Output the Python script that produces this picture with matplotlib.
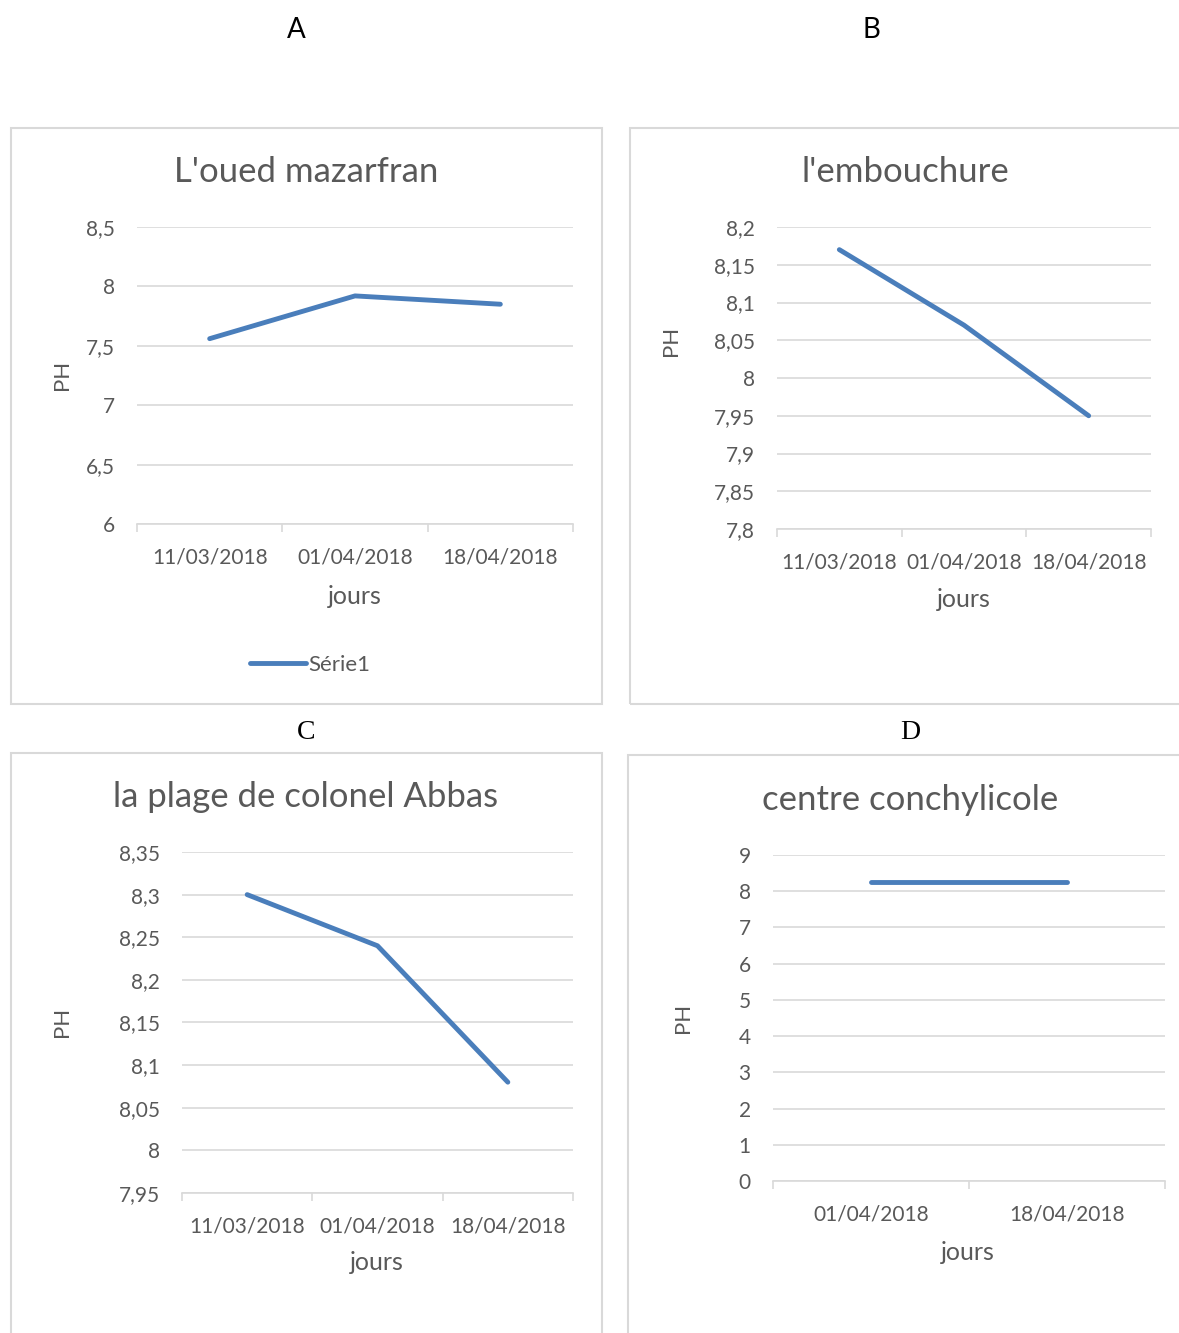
import numpy as np
import matplotlib
matplotlib.use("Agg")
import matplotlib.pyplot as plt
from matplotlib.patches import Rectangle

W, H = 1179, 1333

# data
dates_3 = ["11/03/2018", "01/04/2018", "18/04/2018"]
dates_2 = ["01/04/2018", "18/04/2018"]
ph_mazarfran = [7.56, 7.92, 7.85]
ph_embouchure = [8.17, 8.07, 7.95]
ph_abbas = [8.30, 8.24, 8.08]
ph_conchy = [8.25, 8.25]

yticks_a = [6, 6.5, 7, 7.5, 8, 8.5]
yticks_b = [7.8, 7.85, 7.9, 7.95, 8, 8.05, 8.1, 8.15, 8.2]
yticks_c = [7.95, 8, 8.05, 8.1, 8.15, 8.2, 8.25, 8.3, 8.35]
yticks_d = [0, 1, 2, 3, 4, 5, 6, 7, 8, 9]

BLUE = "#4a7ebb"
GRID = "#d9d9d9"
TXT = "#595959"
FONT = ["Lato", "DejaVu Sans"]

plt.rcParams["font.family"] = FONT


def fx(x):
    return x / W


def fy(y):
    return 1 - y / H


def rect(x0, y0, x1, y1):
    return [x0 / W, 1 - y1 / H, (x1 - x0) / W, (y1 - y0) / H]


fig = plt.figure(figsize=(W / 100, H / 100), dpi=100)


def frame(x0, y0, x1, y1):
    fig.patches.append(Rectangle((fx(x0), fy(y1)), (x1 - x0) / W, (y1 - y0) / H,
                                 transform=fig.transFigure, fill=False,
                                 edgecolor=GRID, linewidth=1.5))


def panel(box, cats, vals, yticks, title, title_xy, ylab_xy, xlab_xy):
    ax = fig.add_axes(rect(*box))
    n = len(cats)
    ax.plot(range(n), vals, color=BLUE, lw=3.5, solid_capstyle="round", zorder=3)
    ax.set_xlim(-0.5, n - 0.5)
    ax.set_ylim(yticks[0], yticks[-1])
    ax.set_yticks(yticks)
    ax.set_yticklabels([f"{v:g}".replace(".", ",") for v in yticks])
    ax.set_xticks(range(n))
    ax.set_xticklabels(cats)
    ax.set_xticks(np.arange(n + 1) - 0.5, minor=True)
    ax.tick_params(axis="x", which="major", length=0, pad=17, labelsize=15, colors=TXT)
    ax.tick_params(axis="x", which="minor", length=6, color=GRID, width=1.2)
    ax.tick_params(axis="y", length=0, pad=16, labelsize=15, colors=TXT)
    ax.grid(axis="y", color=GRID, lw=1.2)
    ax.set_axisbelow(True)
    for s in ["left", "right", "top"]:
        ax.spines[s].set_visible(False)
    ax.spines["bottom"].set_color(GRID)
    ax.spines["bottom"].set_linewidth(1.2)
    fig.text(fx(title_xy[0]), fy(title_xy[1]), title, ha="center", va="center",
             fontsize=25, color=TXT)
    fig.text(fx(ylab_xy[0]), fy(ylab_xy[1]), "PH", rotation=90, ha="center",
             va="center", fontsize=16, color=TXT)
    fig.text(fx(xlab_xy[0]), fy(xlab_xy[1]), "jours", ha="center", va="center",
             fontsize=18, color=TXT)
    return ax


frame(11, 128, 602, 704)
frame(630, 128, 1185, 704)
frame(11, 753, 602, 1340)
frame(628, 755, 1185, 1340)

ax_a = panel((137, 227, 573, 524), dates_3, ph_mazarfran, yticks_a,
             "L'oued mazarfran", (306, 172), (62, 375), (355, 596))
panel((777, 227, 1151, 529), dates_3, ph_embouchure, yticks_b,
      "l'embouchure", (905, 172), (671, 341), (964, 599))
panel((182, 852, 573, 1193), dates_3, ph_abbas, yticks_c,
      "la plage de colonel Abbas", (306, 797), (62, 1022), (377, 1263))
panel((773, 855, 1165, 1181), dates_2, ph_conchy, yticks_d,
      "centre conchylicole", (910, 800), (683, 1018), (968, 1252))

h = ax_a.get_lines()[0]
fig.legend([h], ["Série1"], loc="center", bbox_to_anchor=(fx(310), fy(665)),
           frameon=False, handlelength=2.5, handletextpad=0.1,
           prop={"size": 16}, labelcolor=TXT)

# panel letters
fig.text(fx(296), fy(30), "A", ha="center", va="center", fontsize=20, color="black")
fig.text(fx(871), fy(30), "B", ha="center", va="center", fontsize=20, color="black")
fig.text(fx(306), fy(733), "C", ha="center", va="center", fontsize=20,
         color="black", family=["Liberation Serif", "DejaVu Serif"])
fig.text(fx(910), fy(733), "D", ha="center", va="center", fontsize=20,
         color="black", family=["Liberation Serif", "DejaVu Serif"])

fig.savefig("out.png", dpi=100)
